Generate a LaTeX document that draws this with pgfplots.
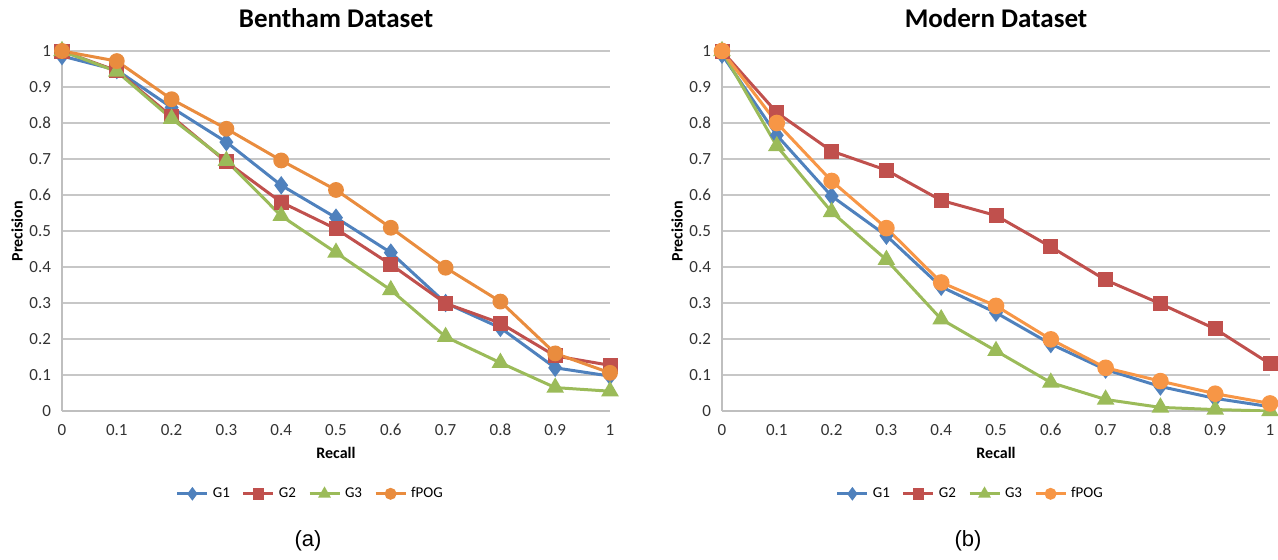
\documentclass[border=0pt]{standalone}
\usepackage{fontspec}
\setmainfont{Carlito}
\newfontfamily\arialfont{Liberation Sans}
\usepackage{pgfplots}
\pgfplotsset{compat=1.18}

\definecolor{cG1}{HTML}{4F81BD}
\definecolor{cG2}{HTML}{C0504D}
\definecolor{cG3}{HTML}{9BBB59}
\definecolor{cPOG}{HTML}{F79646}
\definecolor{cPOGa}{HTML}{E98C3E}

\pgfplotsset{
  every axis title shift=0pt,
  prstyle/.style={
    scale only axis, width=274pt, height=180pt,
    xmin=0, xmax=1, ymin=0, ymax=1,
    xtick={0,0.1,0.2,0.3,0.4,0.5,0.6,0.7,0.8,0.9,1},
    ytick={0,0.1,0.2,0.3,0.4,0.5,0.6,0.7,0.8,0.9,1},
    axis x line*=bottom, axis y line*=left,
    axis line style={draw=black!25, line width=1pt, -},
    ymajorgrids, grid style={draw=black!22, line width=0.8pt},
    major tick length=0pt,
    /pgf/number format/assume math mode=true,
    tick label style={font=\fontsize{8.5}{10}\selectfont, text=black!80},
    yticklabel style={xshift=-2pt},
    xticklabel style={yshift=-3pt},
    title style={at={(axis description cs:0.5,1.092)}, anchor=center,
      font=\bfseries\fontsize{13.5}{16}\selectfont},
    xlabel={Recall}, ylabel={Precision},
    xlabel style={at={(axis description cs:0.5,-0.117)}, anchor=center,
      font=\bfseries\fontsize{8}{10}\selectfont},
    ylabel style={at={(axis description cs:-0.082,0.5)}, anchor=center, rotate=0,
      font=\bfseries\fontsize{8}{10}\selectfont},
    legend style={at={(axis description cs:0.455,-0.23)}, anchor=center, draw=none,
      legend columns=-1, font=\fontsize{7.5}{9}\selectfont,
      /tikz/every even column/.append style={column sep=4pt}},
    legend image code/.code={
      \draw[mark repeat=2, mark phase=2, mark size=2.2pt]
        plot coordinates {(0pt,0pt) (7.5pt,0pt) (15pt,0pt)};},
    every axis plot/.append style={line width=1.5pt},
  },
}

\begin{document}
\begin{tikzpicture}
\useasboundingbox (0,0) rectangle (639pt,279.5pt);

\begin{axis}[prstyle, at={(31pt,74pt)}, anchor=south west, title={Bentham Dataset}]
\addplot[color=cG1, mark=diamond*, mark size=3.4pt] coordinates {
  (0,0.986) (0.1,0.947) (0.2,0.843) (0.3,0.747) (0.4,0.627) (0.5,0.537)
  (0.6,0.440) (0.7,0.300) (0.8,0.231) (0.9,0.120) (1,0.097) };
\addplot[color=cG2, mark=square*, mark size=3pt] coordinates {
  (0,1.0) (0.1,0.945) (0.2,0.818) (0.3,0.692) (0.4,0.580) (0.5,0.506)
  (0.6,0.407) (0.7,0.299) (0.8,0.244) (0.9,0.153) (1,0.127) };
\addplot[color=cG3, mark=triangle*, mark size=3.6pt] coordinates {
  (0,1.0) (0.1,0.943) (0.2,0.812) (0.3,0.695) (0.4,0.542) (0.5,0.440)
  (0.6,0.336) (0.7,0.206) (0.8,0.134) (0.9,0.065) (1,0.055) };
\addplot[color=cPOGa, mark=*, mark size=3.2pt] coordinates {
  (0,1.0) (0.1,0.972) (0.2,0.866) (0.3,0.784) (0.4,0.696) (0.5,0.614)
  (0.6,0.509) (0.7,0.398) (0.8,0.304) (0.9,0.160) (1,0.106) };
\legend{G1,G2,G3,fPOG}
\end{axis}

\begin{axis}[prstyle, at={(361pt,74pt)}, anchor=south west, title={Modern Dataset}]
\addplot[color=cG1, mark=diamond*, mark size=3.4pt] coordinates {
  (0,0.990) (0.1,0.766) (0.2,0.597) (0.3,0.487) (0.4,0.345) (0.5,0.273)
  (0.6,0.186) (0.7,0.115) (0.8,0.068) (0.9,0.035) (1,0.012) };
\addplot[color=cG2, mark=square*, mark size=3pt] coordinates {
  (0,1.0) (0.1,0.829) (0.2,0.722) (0.3,0.669) (0.4,0.585) (0.5,0.543)
  (0.6,0.456) (0.7,0.364) (0.8,0.298) (0.9,0.228) (1,0.131) };
\addplot[color=cG3, mark=triangle*, mark size=3.6pt] coordinates {
  (0,1.0) (0.1,0.736) (0.2,0.553) (0.3,0.420) (0.4,0.255) (0.5,0.167)
  (0.6,0.079) (0.7,0.032) (0.8,0.010) (0.9,0.004) (1,0.0) };
\addplot[color=cPOG, mark=*, mark size=3.4pt] coordinates {
  (0,1.0) (0.1,0.800) (0.2,0.639) (0.3,0.508) (0.4,0.357) (0.5,0.292)
  (0.6,0.199) (0.7,0.120) (0.8,0.083) (0.9,0.048) (1,0.021) };
\legend{G1,G2,G3,fPOG}
\end{axis}

\node[inner sep=0pt, font=\arialfont\fontsize{11}{13}\selectfont] at (154pt,9pt) {(a)};
\node[inner sep=0pt, font=\arialfont\fontsize{11}{13}\selectfont] at (484pt,9pt) {(b)};
\end{tikzpicture}
\end{document}
